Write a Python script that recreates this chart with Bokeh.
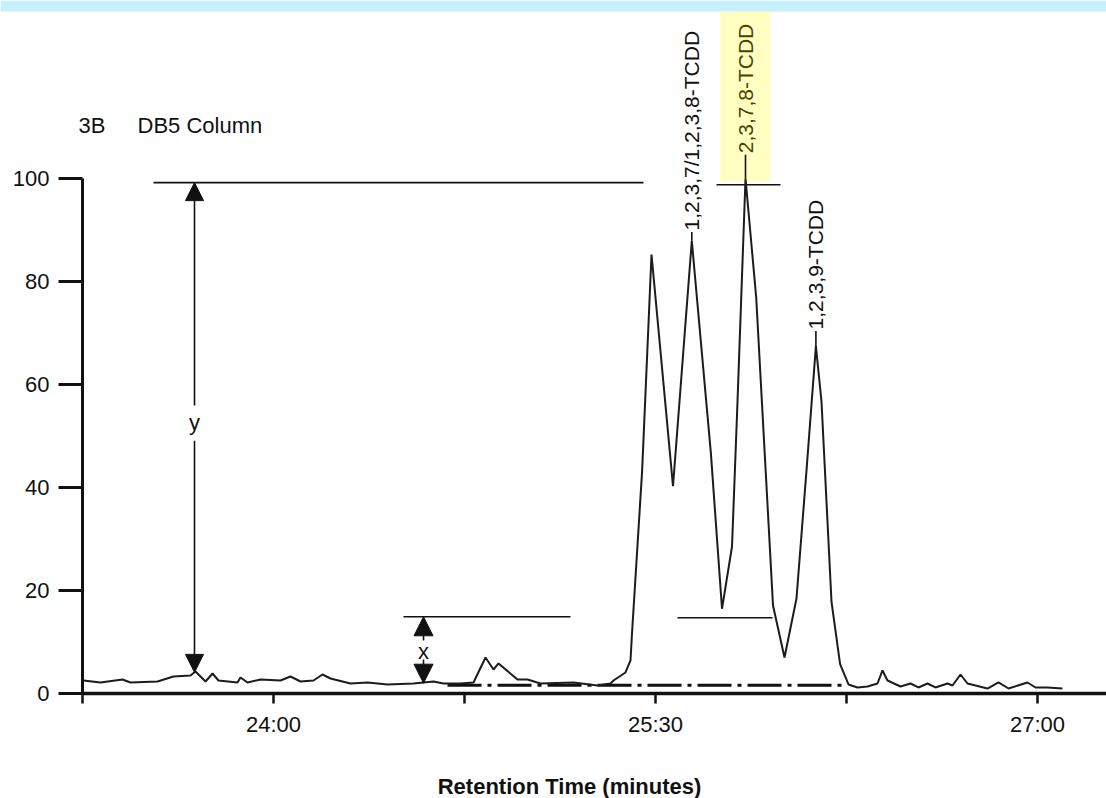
import math
from bokeh.plotting import figure
from bokeh.models import (FixedTicker, Arrow, NormalHead, Label,
                          BoxAnnotation, Range1d, ColumnDataSource)
from bokeh.embed import file_html
from bokeh.resources import INLINE
from bokeh.core.properties import value

# ---------------- data ----------------
time_min = [23.2539, 23.3207, 23.4071, 23.4385, 23.5445, 23.6073, 23.6741, 23.6937,
            23.7330, 23.7605, 23.7840, 23.8586, 23.8704, 23.8979, 23.9489, 24.0275,
            24.0667, 24.1060, 24.1571, 24.1924, 24.2238, 24.3023, 24.3691, 24.4476,
            24.5497, 24.5890, 24.6283, 24.6675, 24.7343, 24.7853, 24.8325, 24.8639,
            24.8835, 24.9581, 24.9974, 25.0484, 25.1780, 25.2722, 25.3233, 25.3351,
            25.3822, 25.4018, 25.4077, 25.4474, 25.4843, 25.5687, 25.6425, 25.7175,
            25.7611, 25.8004, 25.8220, 25.8534, 25.8954, 25.9614, 26.0065, 26.0536,
            26.0929, 26.1298, 26.1518, 26.1911, 26.2248, 26.2578, 26.2931, 26.3324,
            26.3717, 26.3913, 26.4110, 26.4620, 26.5013, 26.5327, 26.5680, 26.5994,
            26.6465, 26.6662, 26.6976, 26.7251, 26.8036, 26.8468, 26.8861, 26.9607,
            26.9921, 27.0392, 27.0981]
intensity = [2.52, 2.14, 2.72, 2.14, 2.33, 3.30, 3.50, 4.27,
             2.33, 3.88, 2.52, 2.14, 3.11, 2.14, 2.72, 2.52,
             3.30, 2.33, 2.52, 3.69, 2.91, 1.94, 2.14, 1.75,
             1.94, 2.14, 2.33, 1.94, 1.94, 2.14, 6.99, 4.66,
             5.83, 2.72, 2.72, 1.94, 2.14, 1.55, 1.94, 2.52,
             4.08, 6.41, 11.65, 43.18, 85.24, 40.25, 87.90, 46.64,
             16.45, 28.54, 56.70, 100.0, 76.89, 17.09, 6.99, 18.45,
             43.30, 67.44, 56.70, 17.77, 5.71, 1.75, 1.17, 1.36,
             1.94, 4.47, 2.52, 1.36, 1.94, 1.17, 1.94, 1.17,
             1.94, 1.55, 3.69, 1.94, 0.97, 2.14, 0.97, 2.14,
             1.17, 1.17, 0.97]

y_tick_values = [0, 20, 40, 60, 80, 100]
x_tick_values = [23.25, 24.0, 24.75, 25.5, 26.25, 27.0]
x_tick_labels = ["", "24:00", "", "25:30", "", "27:00"]

peak_names = ["1,2,3,7/1,2,3,8-TCDD", "2,3,7,8-TCDD", "1,2,3,9-TCDD"]
peak_times = [25.6425, 25.8534, 26.1298]
peak_heights = [87.9, 100.0, 67.4]
label_starts = [89.6, 104.6, 70.4]
label_colors = ["#111111", "#454500", "#111111"]

ref_level = 99.2          # "y" reference level (tallest peak)
noise_level = 14.9        # "x" noise level
baseline_level = 1.6      # dash-dot baseline
y_arrow_time = 23.6898
x_arrow_time = 24.5890
axis_start = 23.25
axis_end = 27.2709

INK = "#111111"
FONT = "Liberation Sans"

p = figure(width=1106, height=798, output_backend="svg", toolbar_location=None,
           title=None, x_range=Range1d(22.92801, 27.27089),
           y_range=Range1d(-20.388, 134.563), min_border=0)
p.outline_line_color = None
p.xgrid.grid_line_color = None
p.ygrid.grid_line_color = None
p.background_fill_color = "white"
p.border_fill_color = "white"

# top light-blue band
p.add_layout(BoxAnnotation(bottom=132.43, fill_color="#c6f0fd", fill_alpha=1.0,
                           line_color=None))

# highlight box behind 2,3,7,8-TCDD
p.quad(left=[25.7552], right=[25.9515], bottom=[99.4], top=[132.43],
       fill_color="#ffffc2", line_color=None)

# reference lines
p.segment(x0=[23.5288, 25.7395], y0=[ref_level, ref_level - 0.4],
          x1=[25.4529, 25.9908], y1=[ref_level, ref_level - 0.4],
          line_color=INK, line_width=1.6)
p.segment(x0=[24.5105, 25.5864], y0=[noise_level, noise_level - 0.2],
          x1=[25.1662, 25.9594], y1=[noise_level, noise_level - 0.2],
          line_color=INK, line_width=1.6)
# dash-dot baseline
p.line(x=[24.6833, 26.2539], y=[baseline_level, baseline_level],
       line_color=INK, line_width=3, line_dash="34 6 4 6")

# chromatogram trace
p.line(x=time_min, y=intensity, line_color="#1c1c1c", line_width=2)

# leader lines and peak labels
p.segment(x0=peak_times, y0=peak_heights, x1=peak_times, y1=label_starts,
          line_color=INK, line_width=1.6)
src = ColumnDataSource(dict(x=peak_times, y=[v + 0.3 for v in label_starts],
                            t=peak_names, c=label_colors))
p.text(x="x", y="y", text="t", source=src, angle=math.pi / 2,
       text_align="left", text_baseline="middle", text_color="c",
       text_font=value(FONT), text_font_size="21px")

# arrows
def head(s):
    return NormalHead(size=s, fill_color=INK, line_color=INK, line_width=1)

p.add_layout(Arrow(end=head(18), x_start=y_arrow_time, y_start=55.9,
                   x_end=y_arrow_time, y_end=ref_level, line_color=INK, line_width=1.6))
p.add_layout(Arrow(end=head(18), x_start=y_arrow_time, y_start=49.1,
                   x_end=y_arrow_time, y_end=4.1, line_color=INK, line_width=1.6))
p.add_layout(Arrow(end=head(19), x_start=x_arrow_time, y_start=10.3,
                   x_end=x_arrow_time, y_end=noise_level, line_color=INK, line_width=1.6))
p.add_layout(Arrow(end=head(19), x_start=x_arrow_time, y_start=6.6,
                   x_end=x_arrow_time, y_end=2.0, line_color=INK, line_width=1.6))

p.add_layout(Label(x=y_arrow_time, y=52.6, text="y", text_align="center",
                   text_baseline="middle", text_font=FONT,
                   text_font_size="22px", text_color=INK))
p.add_layout(Label(x=x_arrow_time, y=8.2, text="x", text_align="center",
                   text_baseline="middle", text_font=FONT,
                   text_font_size="22px", text_color=INK))

# panel caption
p.add_layout(Label(x=23.2343, y=110.3, text="3B", text_align="left",
                   text_baseline="middle", text_font=FONT,
                   text_font_size="22px", text_color=INK))
p.add_layout(Label(x=23.4660, y=110.3, text="DB5 Column", text_align="left",
                   text_baseline="middle", text_font=FONT,
                   text_font_size="22px", text_color=INK))

# x-axis title
p.add_layout(Label(x=25.1623, y=-18.06, text="Retention Time (minutes)",
                   text_align="center", text_baseline="middle", text_font=FONT,
                   text_font_size="22px", text_font_style="bold", text_color=INK))

# axes (drawn at fixed data locations)
p.yaxis.fixed_location = axis_start
p.yaxis.ticker = FixedTicker(ticks=y_tick_values)
p.yaxis.bounds = (0, 100)
p.yaxis.axis_line_width = 3
p.yaxis.axis_line_color = INK
p.yaxis.major_tick_out = 24
p.yaxis.major_tick_in = 0
p.yaxis.major_tick_line_width = 3
p.yaxis.major_tick_line_color = INK
p.yaxis.minor_tick_line_color = None
p.yaxis.major_label_standoff = 9
p.yaxis.major_label_text_font = FONT
p.yaxis.major_label_text_font_size = "22px"
p.yaxis.major_label_text_color = INK

p.xaxis.fixed_location = 0
p.xaxis.ticker = FixedTicker(ticks=x_tick_values)
p.xaxis.major_label_overrides = dict(zip(x_tick_values, x_tick_labels))
p.xaxis.bounds = (axis_start, axis_end)
p.xaxis.axis_line_width = 3.5
p.xaxis.axis_line_color = INK
p.xaxis.major_tick_out = 10
p.xaxis.major_tick_in = 0
p.xaxis.major_tick_line_width = 2.5
p.xaxis.major_tick_line_color = INK
p.xaxis.minor_tick_line_color = None
p.xaxis.major_label_standoff = 8
p.xaxis.major_label_text_font = FONT
p.xaxis.major_label_text_font_size = "22px"
p.xaxis.major_label_text_color = INK

open("out.html", "w").write(file_html(p, INLINE))
